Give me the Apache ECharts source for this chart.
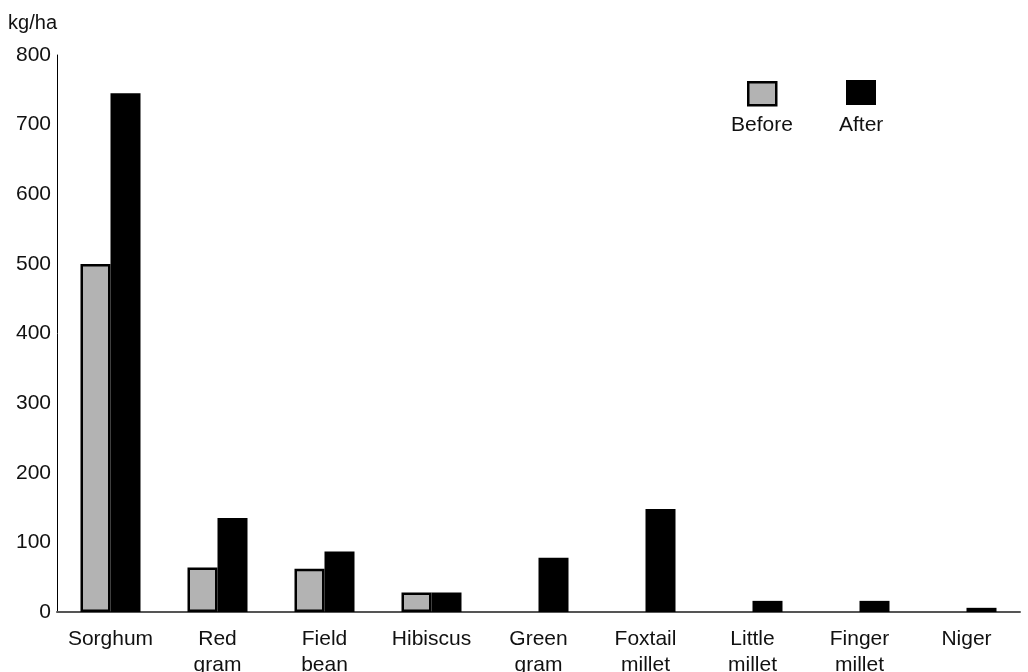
<!DOCTYPE html>
<html>
<head>
<meta charset="utf-8">
<script src="https://cdn.jsdelivr.net/npm/echarts@6/dist/echarts.min.js"></script>
<style>html,body{margin:0;padding:0;background:#fff}#c{width:1028px;height:672px}</style>
</head>
<body>
<div id="c"></div>
<script>
const categories = ['Sorghum', 'Red\ngram', 'Field\nbean', 'Hibiscus', 'Green\ngram', 'Foxtail\nmillet', 'Little\nmillet', 'Finger\nmillet', 'Niger'];
const beforeValues = [500, 64, 62, 28, '-', '-', '-', '-', '-'];
const afterValues = [745, 135, 87, 28, 78, 148, 16, 16, 6];
const yTicks = { min: 0, max: 800, interval: 100 };
const seriesNames = ['Before', 'After'];

const font = 'Liberation Sans, Arial, sans-serif';
const fs = 21;
const chart = echarts.init(document.getElementById('c'), null, { renderer: 'canvas' });
chart.setOption({
  animation: false,
  backgroundColor: '#fff',
  grid: { left: 57, right: 8, top: 55, bottom: 60, containLabel: false, outerBoundsMode: 'none' },
  legend: [
    {
      data: [seriesNames[0]], left: 747, top: 81, padding: 0, itemWidth: 28, itemHeight: 23, icon: 'rect',
      formatter: function () { return ''; }, itemGap: 0,
      itemStyle: { borderColor: '#000', borderWidth: 2.5 }
    },
    {
      data: [seriesNames[1]], left: 846, top: 80, padding: 0, itemWidth: 30, itemHeight: 25, icon: 'rect',
      formatter: function () { return ''; }, itemGap: 0
    }
  ],
  graphic: [
    { type: 'text', left: 731, top: 115, style: { text: seriesNames[0], font: fs + 'px ' + font, fill: '#111' } },
    { type: 'text', left: 839, top: 115, style: { text: seriesNames[1], font: fs + 'px ' + font, fill: '#111' } }
  ],
  xAxis: {
    type: 'category', data: categories,
    axisLine: { lineStyle: { color: '#555', width: 2 } },
    axisTick: { show: false },
    axisLabel: { fontFamily: font, fontSize: fs, color: '#111', margin: 14, lineHeight: 26, interval: 0 }
  },
  yAxis: {
    type: 'value', min: yTicks.min, max: yTicks.max, interval: yTicks.interval,
    name: 'kg/ha', nameLocation: 'end', nameGap: 22,
    nameTextStyle: { fontFamily: font, fontSize: 20, color: '#111', align: 'right' },
    axisLine: { show: true, lineStyle: { color: '#000', width: 1 } },
    axisTick: { show: false },
    splitLine: { show: false },
    axisLabel: { fontFamily: font, fontSize: fs, color: '#111', margin: 6 }
  },
  series: [
    {
      name: seriesNames[0], type: 'bar', data: beforeValues, barWidth: 30, barGap: '0%',
      itemStyle: { color: '#b3b3b3', borderColor: '#000', borderWidth: 2.5 }
    },
    {
      name: seriesNames[1], type: 'bar', data: afterValues, barWidth: 30, barGap: '0%',
      itemStyle: { color: '#000' }
    }
  ]
});
</script>
</body>
</html>
